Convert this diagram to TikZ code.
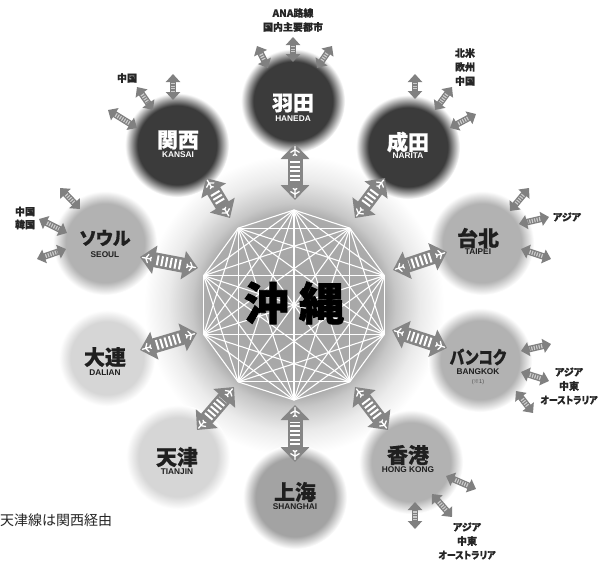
\documentclass[tikz,border=0pt]{standalone}
\usepackage{fontspec}
\setmainfont{Liberation Sans}
\newfontfamily\jp[RawFeature=+palt, BoldFeatures={FakeBold=0.6}]{Noto Sans CJK JP}
\newfontfamily\jpheavy[BoldFeatures={FakeBold=1.6}]{Noto Sans CJK JP}
\usetikzlibrary{arrows.meta,calc}
\definecolor{arrg}{gray}{0.52}
\definecolor{sarr}{gray}{0.50}
\definecolor{ink}{gray}{0.12}
\newcommand\NameFont{\jp\bfseries\fontsize{21}{21}\selectfont}
\newcommand\KanaFont{\jp\bfseries\fontsize{18}{18}\selectfont}
\newcommand\SubFont{\bfseries\fontsize{8.3}{9}\selectfont}
\newcommand\LabFont{\jp\bfseries\fontsize{10}{14}\selectfont}
\pgfdeclareradialshading{darkball}{\pgfpointorigin}{color(0bp)=(black!77); color(19bp)=(black!77); color(25bp)=(white); color(50bp)=(white)}
\pgfdeclareradialshading{lightball}{\pgfpointorigin}{color(0bp)=(black!30); color(19bp)=(black!30); color(25bp)=(white); color(50bp)=(white)}
\pgfdeclareradialshading{midball}{\pgfpointorigin}{color(0bp)=(black!36); color(19bp)=(black!36); color(25bp)=(white); color(50bp)=(white)}
\pgfdeclareradialshading{paleball}{\pgfpointorigin}{color(0bp)=(black!16); color(19bp)=(black!16); color(25bp)=(white); color(50bp)=(white)}
\pgfdeclareradialshading{glow}{\pgfpointorigin}{color(0bp)=(black!36); color(15bp)=(black!33); color(17bp)=(black!22); color(21bp)=(black!8); color(25bp)=(white); color(50bp)=(white)}
\newcommand\BigArrow[2]{%
  \draw[bigshaft] (#1) -- (#2);
  \draw[bigstripe] (#1) -- (#2);
  \path let \p1=($(#2)-(#1)$), \n1={atan2(\y1,\x1)} in
    ($(#2)!7pt!(#1)$) pic[rotate=\n1] {jet}
    ($(#1)!7pt!(#2)$) pic[rotate=\n1+180] {jet};
}
\newcommand\SmallArrow[2]{%
  \draw[smallshaft] (#1) -- (#2);
  \draw[smallstripe] (#1) -- (#2);
}
\begin{document}
\begin{tikzpicture}[x=1pt,y=-1pt,
  ball/.style={circle, inner sep=0pt, minimum size=104pt, shade},
  bigshaft/.style={draw=arrg, line width=15pt, {Triangle[length=15pt,width=28pt]}-{Triangle[length=15pt,width=28pt]}},
  bigstripe/.style={draw=white, line width=10pt, dash pattern=on 2pt off 2.5pt, shorten <=17pt, shorten >=17pt},
  smallshaft/.style={draw=sarr, line width=6.5pt, {Triangle[length=8pt,width=14pt]}-{Triangle[length=8pt,width=14pt]}},
  smallstripe/.style={draw=white!80!black, line width=4pt, dash pattern=on 1.2pt off 1.3pt, shorten <=9pt, shorten >=9pt},
  jet/.pic={\draw[white, line width=1.3pt, line cap=round]
     (-4,0) -- (4.5,0) (1.2,0) -- (-1.3,4.2) (1.2,0) -- (-1.3,-4.2)
     (-3.2,0) -- (-4.4,1.8) (-3.2,0) -- (-4.4,-1.8);},
  webline/.style={draw=white, line width=1.1pt},
  jpname/.style={font=\NameFont, inner sep=0pt},
  kana/.style={font=\KanaFont, inner sep=0pt},
  enname/.style={font=\SubFont, inner sep=0pt},
  lab/.style={font=\LabFont, align=center, inner sep=0pt, text=black!85},
]
\useasboundingbox (0,0) rectangle (599,565);
\fill[white] (0,0) rectangle (599,565);
% central glow
\coordinate (C) at (294,305);
\shade[shading=glow] (C) circle[radius=150];
% decagon web
\foreach \i in {0,...,9}
  \coordinate (v\i) at ($(C)+({95*cos(-90+36*\i)},{95*sin(-90+36*\i)})$);
\foreach \i in {0,...,8} {
  \pgfmathtruncatemacro\s{\i+1}
  \foreach \j in {\s,...,9} \draw[webline] (v\i) -- (v\j);
}
\node[font=\jpheavy\bfseries\fontsize{45}{45}\selectfont, inner sep=0pt] (okinawa) at (294,303) {沖\kern10pt縄};

% airports
\node[ball, shading=darkball] (haneda) at (293,101) {};
\node[jpname, text=white] (hanedaJ) at (293,103) {羽田};
\node[enname, text=white] (hanedaE) at (293,119) {HANEDA};

\node[ball, shading=darkball] (kansai) at (177,145) {};
\node[jpname, text=white] (kansaiJ) at (178,140) {関西};
\node[enname, text=white] (kansaiE) at (178,155) {KANSAI};

\node[ball, shading=darkball] (narita) at (408,147) {};
\node[jpname, text=white] (naritaJ) at (408,142) {成田};
\node[enname, text=white] (naritaE) at (408,156) {NARITA};

\node[ball, shading=lightball] (seoul) at (105,243) {};
\node[kana, text=ink] (seoulJ) at (105,238) {ソウル};
\node[enname, text=ink] (seoulE) at (105,255) {SEOUL};

\node[ball, shading=lightball] (taipei) at (482,243) {};
\node[jpname, text=ink] (taipeiJ) at (478,238) {台北};
\node[enname, text=ink] (taipeiE) at (478,252) {TAIPEI};

\node[ball, shading=paleball, minimum size=96pt] (dalian) at (107,358) {};
\node[jpname, text=ink] (dalianJ) at (105,357) {大連};
\node[enname, text=ink] (dalianE) at (105,373) {DALIAN};

\node[ball, shading=lightball] (bangkok) at (480,360) {};
\node[kana, text=ink] (bangkokJ) at (478,357) {\scalebox{0.82}[1]{バンコク}};
\node[enname, text=ink] (bangkokE) at (478,372) {BANGKOK};
\node[font=\fontsize{5.5}{6}\selectfont, text=black!70, inner sep=0pt] (bangkokN) at (478,382) {({\jp ※}1)};

\node[ball, shading=paleball] (tianjin) at (178,457) {};
\node[jpname, text=ink] (tianjinJ) at (177,457) {天津};
\node[enname, text=ink] (tianjinE) at (177,472) {TIANJIN};

\node[ball, shading=midball] (shanghai) at (295,497) {};
\node[jpname, text=ink] (shanghaiJ) at (295,492) {上海};
\node[enname, text=ink] (shanghaiE) at (295,507) {SHANGHAI};

\node[ball, shading=lightball] (hongkong) at (411,462) {};
\node[jpname, text=ink] (hongkongJ) at (408,455) {香港};
\node[enname, text=ink] (hongkongE) at (408,470) {HONG KONG};

% big arrows to Okinawa
\foreach \id/\ax/\ay/\bx/\by in {
  hnd/295/144/295/200, kix/206/178/230/218, nrt/385/178/355/218,
  sel/140/257/198/268, tpe/447/252/393/270, dlc/140/350/197/333,
  bkk/447/348/392/330, tsn/197/430/234/387, sha/295/462/295/405,
  hkg/388/430/355/387} {
  \coordinate (\id-a) at (\ax,\ay);
  \coordinate (\id-b) at (\bx,\by);
  \BigArrow{\id-a}{\id-b}
}

% small outward arrows
\foreach \id/\ax/\ay/\bx/\by in {
  h1/293/37/293/62, h2/257/46/268/68, h3/332/46/317/68,
  k1/173/74/173/100, k2/137/87/153/110, k3/108/110/137/128,
  n1/415/74/415/99, n2/452/87/435/110, n3/476/114/450/128,
  s1/60/188/80/209, s2/39/219/67/233, s3/37/259/66/249,
  t1/529/188/510/211, t2/549/217/519/224, t3/551/259/521/249,
  b1/551/344/521/351, b2/549/381/521/372, b3/533/413/516/391,
  g1/476/489/446/476, g2/452/517/432/494, g3/415/529/415/502} {
  \coordinate (\id-a) at (\ax,\ay);
  \coordinate (\id-b) at (\bx,\by);
  \SmallArrow{\id-a}{\id-b}
}

% destination labels
\node[lab] (labH) at (293,20) {ANA路線\\国内主要都市};
\node[lab] (labN) at (465,67) {北米\\欧州\\中国};
\node[lab] (labK) at (127,78) {中国};
\node[lab, font=\jp\bfseries\fontsize{10}{13}\selectfont] (labS) at (25,218) {中国\\韓国};
\node[lab] (labT) at (567,217) {アジア};
\node[lab] (labB) at (569,386) {アジア\\中東\\\scalebox{0.9}[1]{オーストラリア}};
\node[lab] (labG) at (467,541) {アジア\\中東\\\scalebox{0.9}[1]{オーストラリア}};
\node[font=\jp\fontsize{14}{14}\selectfont, anchor=west, inner sep=0pt, text=black!85] (note) at (0,520) {天津線は関西経由};
\end{tikzpicture}
\end{document}
